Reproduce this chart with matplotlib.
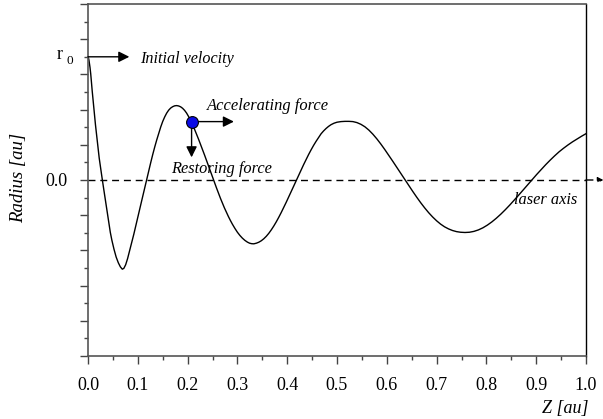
import matplotlib
matplotlib.use("Agg")
import matplotlib.pyplot as plt
from matplotlib.ticker import MultipleLocator, FixedLocator, FuncFormatter

# ---- data (radius in units of r0) ----
z_vals = [0.000, 0.001, 0.002, 0.003, 0.004, 0.0055, 0.0067, 0.0085, 0.0100, 0.0117,
          0.0134, 0.0150, 0.0167, 0.0184, 0.0201, 0.0225, 0.025, 0.0275, 0.0288, 0.0315,
          0.0348, 0.0372, 0.0395, 0.042, 0.0448, 0.048, 0.0522, 0.0565, 0.0609, 0.065,
          0.0689, 0.072, 0.0756, 0.0795, 0.0837, 0.088, 0.092, 0.096, 0.100, 0.104,
          0.108, 0.112, 0.116, 0.118, 0.122, 0.126, 0.130, 0.134, 0.138, 0.142,
          0.146, 0.150, 0.154, 0.158, 0.162, 0.166, 0.170, 0.174, 0.178, 0.182,
          0.186, 0.190, 0.194, 0.198, 0.202, 0.206, 0.210, 0.214, 0.218, 0.222,
          0.226, 0.230, 0.234, 0.238, 0.242, 0.246, 0.250, 0.254, 0.258, 0.262,
          0.266, 0.270, 0.274, 0.278, 0.282, 0.286, 0.290, 0.295, 0.300, 0.305,
          0.310, 0.315, 0.320, 0.3245, 0.3287, 0.333, 0.338, 0.343, 0.348, 0.353,
          0.358, 0.363, 0.368, 0.373, 0.378, 0.383, 0.388, 0.393, 0.398, 0.403,
          0.408, 0.413, 0.418, 0.423, 0.428, 0.433, 0.438, 0.443, 0.448, 0.453,
          0.458, 0.463, 0.468, 0.473, 0.478, 0.483, 0.488, 0.494, 0.500, 0.508,
          0.516, 0.524, 0.532, 0.540, 0.548, 0.556, 0.564, 0.572, 0.580, 0.588,
          0.596, 0.604, 0.612, 0.620, 0.628, 0.636, 0.644, 0.652, 0.660, 0.668,
          0.676, 0.684, 0.692, 0.700, 0.708, 0.716, 0.724, 0.732, 0.740, 0.748,
          0.757, 0.766, 0.775, 0.784, 0.793, 0.802, 0.811, 0.820, 0.829, 0.838,
          0.847, 0.856, 0.865, 0.874, 0.883, 0.892, 0.901, 0.910, 0.919, 0.928,
          0.937, 0.946, 0.955, 0.964, 0.973, 0.982, 0.991, 1.000]
r_vals = [1.000, 0.990, 0.970, 0.945, 0.915, 0.860, 0.800, 0.720, 0.655, 0.585,
          0.515, 0.448, 0.385, 0.320, 0.258, 0.178, 0.105, 0.037, 0.003, -0.072,
          -0.160, -0.225, -0.290, -0.355, -0.425, -0.490, -0.562, -0.625, -0.672, -0.705,
          -0.724, -0.717, -0.688, -0.638, -0.572, -0.505, -0.440, -0.372, -0.303, -0.234,
          -0.165, -0.096, -0.027, 0.007, 0.075, 0.142, 0.207, 0.268, 0.325, 0.378,
          0.430, 0.475, 0.512, 0.543, 0.567, 0.584, 0.595, 0.602, 0.604, 0.601,
          0.594, 0.582, 0.565, 0.543, 0.515, 0.483, 0.448, 0.411, 0.372, 0.331,
          0.289, 0.246, 0.203, 0.159, 0.115, 0.070, 0.025, -0.020, -0.064, -0.107,
          -0.149, -0.189, -0.227, -0.263, -0.297, -0.329, -0.359, -0.393, -0.424, -0.450,
          -0.472, -0.490, -0.504, -0.513, -0.517, -0.518, -0.513, -0.505, -0.493, -0.477,
          -0.457, -0.433, -0.405, -0.374, -0.340, -0.303, -0.264, -0.223, -0.181, -0.138,
          -0.094, -0.050, -0.006, 0.038, 0.082, 0.125, 0.167, 0.207, 0.245, 0.281,
          0.314, 0.345, 0.375, 0.398, 0.418, 0.435, 0.449, 0.461, 0.469, 0.474,
          0.476, 0.476, 0.474, 0.466, 0.452, 0.432, 0.405, 0.372, 0.334, 0.292,
          0.247, 0.200, 0.152, 0.103, 0.054, 0.005, -0.044, -0.092, -0.139, -0.184,
          -0.226, -0.265, -0.300, -0.331, -0.358, -0.380, -0.397, -0.410, -0.419, -0.424,
          -0.426, -0.424, -0.417, -0.405, -0.388, -0.366, -0.340, -0.310, -0.277, -0.241,
          -0.203, -0.163, -0.122, -0.080, -0.038, 0.004, 0.045, 0.085, 0.124, 0.161,
          0.196, 0.229, 0.258, 0.285, 0.310, 0.333, 0.355, 0.376]
dot_z, dot_r = 0.208, 0.474

x_ticks = [0.0, 0.1, 0.2, 0.3, 0.4, 0.5, 0.6, 0.7, 0.8, 0.9, 1.0]
x_tick_labels = ["0.0", "0.1", "0.2", "0.3", "0.4", "0.5", "0.6", "0.7", "0.8", "0.9", "1.0"]

plt.rcParams['font.family'] = ['Liberation Serif', 'DejaVu Serif']

W, H = 603, 419
fig = plt.figure(figsize=(W / 100, H / 100), dpi=100)
ax = fig.add_axes([88 / W, 1 - 356 / H, (586 - 88) / W, (356 - 4) / H])

ax.plot(z_vals, r_vals, color='black', lw=1.0, solid_joinstyle='round')

# laser axis (dashed, extends beyond axes with arrow)
ax.plot([0, 1.0], [0, 0], color='black', lw=1.0, ls=(0, (5, 3.5)))
ax.annotate('', xy=(1.035, 0), xytext=(1.0, 0),
            arrowprops=dict(arrowstyle='-|>', color='black', lw=1.0, ls=(0, (5, 3.5)),
                            mutation_scale=8, shrinkA=0, shrinkB=0),
            annotation_clip=False)

# Initial velocity arrow
ax.annotate('', xy=(0.083, 1.0), xytext=(0.0, 1.0),
            arrowprops=dict(arrowstyle='-|>', color='black', lw=1.0,
                            mutation_scale=16, shrinkA=0, shrinkB=0))
# forces
ax.annotate('', xy=(dot_z + 0.085, dot_r), xytext=(dot_z, dot_r),
            arrowprops=dict(arrowstyle='-|>', color='black', lw=1.0,
                            mutation_scale=16, shrinkA=0, shrinkB=0))
ax.annotate('', xy=(dot_z, dot_r - 0.29), xytext=(dot_z, dot_r),
            arrowprops=dict(arrowstyle='-|>', color='black', lw=1.0,
                            mutation_scale=16, shrinkA=0, shrinkB=0))
ax.plot([dot_z], [dot_r], 'o', ms=8.5, mfc='#0a0ae6', mec='black', mew=0.8, zorder=5)

# annotations
ax.text(0.104, 0.985, 'Initial velocity', style='italic', fontsize=11.6, va='center', ha='left')
ax.text(0.239, 0.60, 'Accelerating force', style='italic', fontsize=11.9, va='center', ha='left')
ax.text(0.167, 0.09, 'Restoring force', style='italic', fontsize=11.8, va='center', ha='left')
ax.text(0.855, -0.16, 'laser axis', style='italic', fontsize=11.8, va='center', ha='left')

# r0 label
ax.text(-0.062, 1.02, 'r', fontsize=13, va='center', ha='left', clip_on=False)
ax.text(-0.044, 0.965, '0', fontsize=9.5, va='center', ha='left', clip_on=False)

ax.set_xlim(0, 1.0)
ax.set_ylim(-10 / 7, 10 / 7)

ax.xaxis.set_major_locator(FixedLocator(x_ticks))
ax.set_xticklabels(x_tick_labels)
ax.xaxis.set_minor_locator(MultipleLocator(0.05))
ax.yaxis.set_major_locator(MultipleLocator(2 / 7))
ax.yaxis.set_minor_locator(MultipleLocator(1 / 7))
ax.yaxis.set_major_formatter(FuncFormatter(lambda v, p: '0.0' if abs(v) < 1e-9 else ''))

ax.tick_params(axis='both', which='major', direction='out', length=6, width=1.0,
               labelsize=13, color='#444444')
ax.tick_params(axis='both', which='minor', direction='out', length=3, width=1.0, color='#444444')
ax.tick_params(axis='x', which='major', pad=9)
ax.tick_params(axis='y', which='major', pad=9)

for s in ['left', 'bottom', 'top']:
    ax.spines[s].set_color('#555555')
    ax.spines[s].set_linewidth(1.2)
ax.spines['right'].set_color('black')
ax.spines['right'].set_linewidth(1.0)

fig.text(19 / W, 1 - 178 / H, 'Radius [au]', rotation=90, style='italic', fontsize=13.5,
         va='center', ha='center')
fig.text(588 / W, 1 - 408 / H, 'Z [au]', style='italic', fontsize=13, va='center', ha='right')

fig.savefig('out.png', dpi=100)
